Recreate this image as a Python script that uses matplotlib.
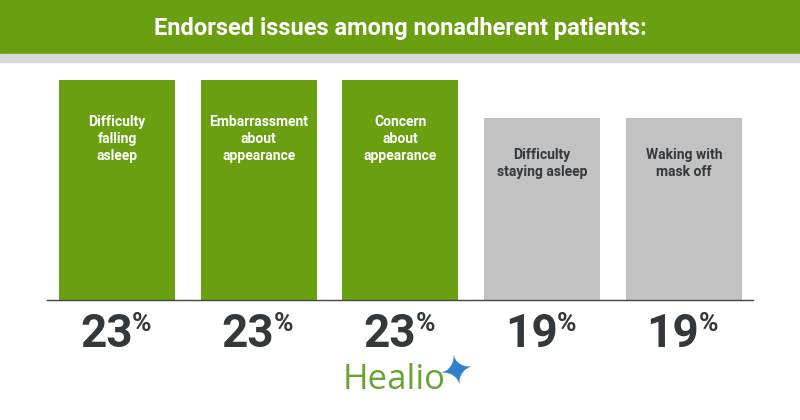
import matplotlib.pyplot as plt
from matplotlib.patches import Rectangle

# Data
labels = ['Difficulty\nfalling\nasleep', 'Embarrassment\nabout\nappearance',
          'Concern\nabout\nappearance', 'Difficulty\nstaying asleep',
          'Waking with\nmask off']
values = [23, 23, 23, 19, 19]
highlight = [True, True, True, False, False]

GREEN = '#6a9f11'
GRAY = '#c2c2c2'
DARK = '#33383c'

plt.rcParams['font.family'] = ['Roboto', 'DejaVu Sans']

W, H = 800, 420
fig = plt.figure(figsize=(8, 4.2), dpi=100)

# header band
fig.patches.append(Rectangle((0, 1 - 54 / H), 1, 54 / H, transform=fig.transFigure,
                             color=GREEN, zorder=0))
fig.patches.append(Rectangle((0, 1 - 62 / H), 1, 8 / H, transform=fig.transFigure,
                             color='#d9d9d9', zorder=0))
fig.text(0.5, 1 - 29 / H, 'Endorsed issues among nonadherent patients:',
         ha='center', va='center', color='white', fontsize=17, fontweight='bold')

# bar axes: baseline at y=300px, 23% -> 220px
ymax = 25
ax_h = ymax * 220 / 23
ax = fig.add_axes([47 / W, (H - 300) / H, (753 - 47) / W, ax_h / H])
x = list(range(len(values)))
colors = [GREEN if h else GRAY for h in highlight]
ax.bar(x, values, width=116 / 141.75, color=colors, zorder=2)
ax.set_xlim(-0.494, 4.488)
ax.set_ylim(0, ymax)
for s in ['top', 'right', 'left']:
    ax.spines[s].set_visible(False)
ax.spines['bottom'].set_color('#444444')
ax.spines['bottom'].set_linewidth(1.0)
ax.set_xticks([])
ax.set_yticks([])

# labels inside bars (offset to the centre of the text block)
for xi, v, lab, h in zip(x, values, labels, highlight):
    off = -59 if h else -45
    ax.annotate(lab, (xi, v), xytext=(0, off * 0.72), textcoords='offset points',
                ha='center', va='center', fontsize=10, fontweight='bold',
                color='white' if h else DARK, linespacing=1.3)

# percent labels below the baseline
tr = ax.get_xaxis_transform()
for xi, v in zip(x, values):
    ax.text(xi + 0.11, -47 / ax_h, str(v), transform=tr, ha='right', va='baseline',
            fontsize=33, fontweight='bold', color=DARK, clip_on=False)
    ax.text(xi + 0.105, -12 / ax_h, '%', transform=tr, ha='left', va='top',
            fontsize=19, fontweight='bold', color=DARK, clip_on=False)

# Healio logo
fig.text(343 / W, 1 - 389 / H, 'Healio', ha='left', va='baseline',
         fontsize=25, color='#67a532', family=['Open Sans', 'DejaVu Sans'])
fig.text(457 / W, 1 - 373 / H, '\u2726', ha='center', va='center',
         fontsize=30, color='#2f7fd0', family=['DejaVu Sans'], rotation=12)

fig.savefig('out.png', dpi=100)
